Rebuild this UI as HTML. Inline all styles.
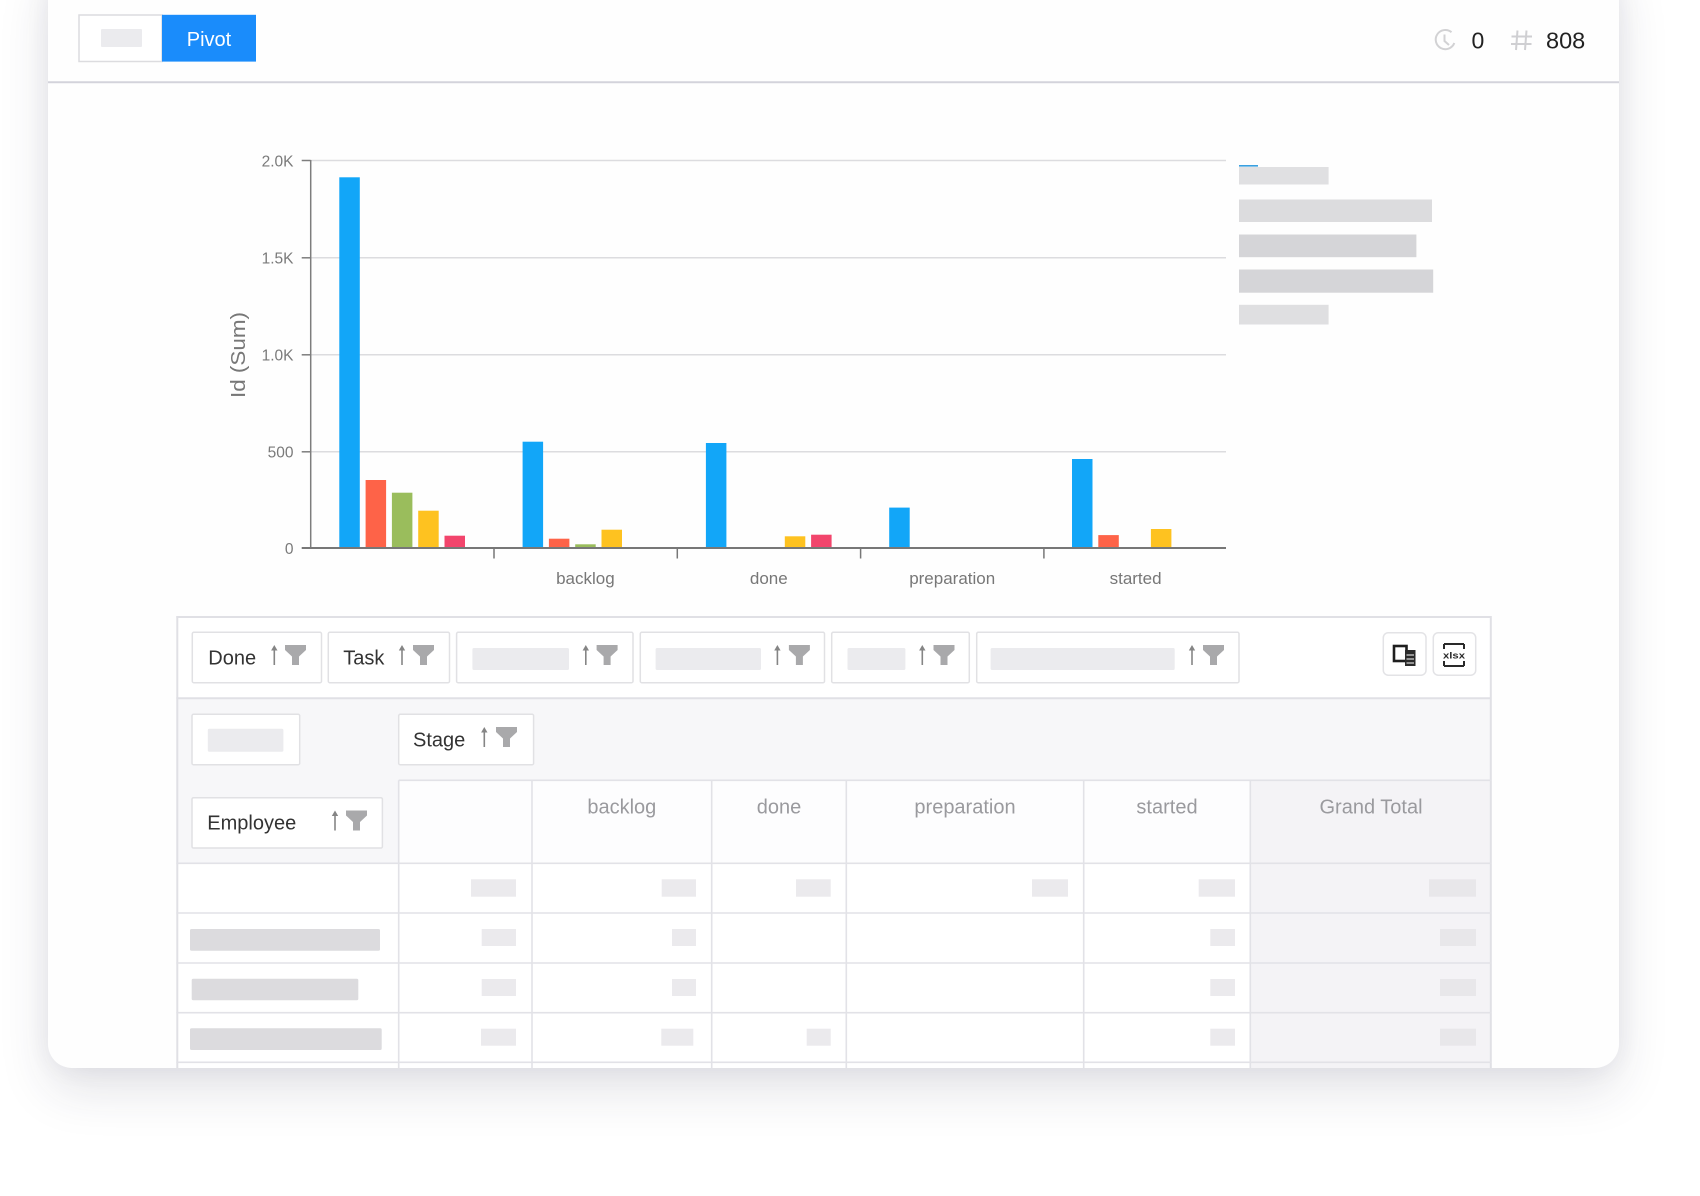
<!DOCTYPE html>
<html>
<head>
<meta charset="utf-8">
<style>
  html,body{margin:0;padding:0;background:#ffffff;}
  body{width:1700px;height:1196px;position:relative;overflow:hidden;font-family:"Liberation Sans",sans-serif;}
  #card{position:absolute;left:48px;top:-40px;width:1571px;height:1108px;border-radius:24px;background:#fefefe;
        box-shadow:0 22px 50px rgba(40,40,70,0.13),0 0 26px rgba(40,40,70,0.06);}
  svg{position:absolute;left:0;top:0;}
  text{font-family:"Liberation Sans",sans-serif;}
</style>
</head>
<body>
<div id="card"></div>
<svg width="1700" height="1196" viewBox="0 0 1700 1196" xmlns="http://www.w3.org/2000/svg">
  <defs>
    <clipPath id="cardclip"><rect x="0" y="0" width="1700" height="1068"/></clipPath>
    <g id="filt"><path d="M0 0 H21 V5 L14 11.5 V20 H7 V11.5 L0 5 Z" fill="#a9a9ab"/></g>
    <g id="arr"><line x1="0" y1="3" x2="0" y2="20" stroke="#858585" stroke-width="1.6"/><path d="M-3.2 5.5 L0 0 L3.2 5.5 Z" fill="#858585"/></g>
  </defs>

  <!-- Header -->
  <rect x="79" y="15" width="83" height="46.5" fill="#ffffff" stroke="#dcdcdf" stroke-width="1.5"/>
  <rect x="101" y="29" width="41" height="18" fill="#ebebee" rx="1"/>
  <rect x="162" y="14.8" width="94" height="46.8" fill="#1a8cfb"/>
  <text x="209" y="46" font-size="20" fill="#ffffff" text-anchor="middle">Pivot</text>
  <line x1="48" y1="82.3" x2="1619" y2="82.3" stroke="#d3d3db" stroke-width="2"/>

  <!-- clock icon -->
  <g fill="none" stroke="#d2d2d4" stroke-width="2">
    <path d="M1451.5 32.2 A9.6 9.6 0 1 0 1454.3 43"/>
    <polyline points="1444.5,34.5 1444.5,41 1449,45"/>
  </g>
  <text x="1471.5" y="48.3" font-size="23" fill="#222">0</text>
  <g stroke="#cfcfd2" stroke-width="2">
    <line x1="1517.5" y1="30.5" x2="1516" y2="50"/>
    <line x1="1526.5" y1="30.5" x2="1525" y2="50"/>
    <line x1="1511.5" y1="36.5" x2="1532" y2="36.5"/>
    <line x1="1511" y1="44" x2="1531.5" y2="44"/>
  </g>
  <text x="1546" y="48.3" font-size="23.5" fill="#222">808</text>

  <!-- Chart gridlines -->
  <g stroke="#dcdcdf" stroke-width="1.5">
    <line x1="311" y1="160.5" x2="1226" y2="160.5"/>
    <line x1="311" y1="257.8" x2="1226" y2="257.8"/>
    <line x1="311" y1="354.8" x2="1226" y2="354.8"/>
    <line x1="311" y1="451.8" x2="1226" y2="451.8"/>
  </g>
  <!-- y axis -->
  <g stroke="#7d7d7d" stroke-width="1.5">
    <line x1="310.7" y1="160" x2="310.7" y2="548"/>
    <line x1="301.7" y1="160.5" x2="310.7" y2="160.5"/>
    <line x1="301.7" y1="257.8" x2="310.7" y2="257.8"/>
    <line x1="301.7" y1="354.8" x2="310.7" y2="354.8"/>
    <line x1="301.7" y1="451.8" x2="310.7" y2="451.8"/>
  </g>
  <g font-size="15.5" fill="#7a7a7a" text-anchor="end">
    <text x="293.5" y="166.5">2.0K</text>
    <text x="293.5" y="263.5">1.5K</text>
    <text x="293.5" y="360.5">1.0K</text>
    <text x="293.5" y="457.5">500</text>
    <text x="293.5" y="554">0</text>
  </g>
  <text transform="translate(245,355) rotate(-90)" font-size="20" fill="#777" text-anchor="middle" textLength="86" lengthAdjust="spacingAndGlyphs">Id (Sum)</text>

  <!-- Bars -->
  <g>
    <rect x="339.3" y="177.3" width="20.5" height="370.4" fill="#12a6f8"/>
    <rect x="365.6" y="480" width="20.5" height="67.7" fill="#fe6348"/>
    <rect x="391.9" y="492.7" width="20.5" height="55" fill="#9abd5c"/>
    <rect x="418.2" y="510.7" width="20.5" height="37" fill="#fec220"/>
    <rect x="444.5" y="535.7" width="20.5" height="12" fill="#f2456c"/>
    <rect x="522.6" y="441.7" width="20.5" height="106" fill="#12a6f8"/>
    <rect x="548.9" y="538.7" width="20.5" height="9" fill="#fe6348"/>
    <rect x="575.2" y="544.3" width="20.5" height="3.4" fill="#9abd5c"/>
    <rect x="601.5" y="529.7" width="20.5" height="18" fill="#fec220"/>
    <rect x="705.9" y="443" width="20.5" height="104.7" fill="#12a6f8"/>
    <rect x="784.8" y="536.3" width="20.5" height="11.4" fill="#fec220"/>
    <rect x="811.1" y="534.7" width="20.5" height="13" fill="#f2456c"/>
    <rect x="889.2" y="507.6" width="20.5" height="40.1" fill="#12a6f8"/>
    <rect x="1072" y="459" width="20.5" height="88.7" fill="#12a6f8"/>
    <rect x="1098.3" y="535.1" width="20.5" height="12.6" fill="#fe6348"/>
    <rect x="1150.9" y="529" width="20.5" height="18.7" fill="#fec220"/>
  </g>

  <!-- x axis -->
  <g stroke="#777" stroke-width="2">
    <line x1="301.7" y1="548" x2="1226" y2="548"/>
  </g>
  <g stroke="#777" stroke-width="1.5">
    <line x1="494" y1="548" x2="494" y2="558.5"/>
    <line x1="677.3" y1="548" x2="677.3" y2="558.5"/>
    <line x1="860.6" y1="548" x2="860.6" y2="558.5"/>
    <line x1="1043.9" y1="548" x2="1043.9" y2="558.5"/>
  </g>
  <g font-size="17" fill="#777" text-anchor="middle">
    <text x="585.4" y="584">backlog</text>
    <text x="768.8" y="584">done</text>
    <text x="952.2" y="584">preparation</text>
    <text x="1135.6" y="584">started</text>
  </g>

  <!-- Legend placeholders -->
  <rect x="1239" y="167" width="89.6" height="17.5" fill="#e0e0e2"/>
  <line x1="1239" y1="165.8" x2="1258" y2="165.8" stroke="#3aa0e0" stroke-width="1.6"/>
  <rect x="1239" y="199.5" width="193" height="22.5" fill="#dcdcde"/>
  <rect x="1239" y="234.5" width="177.4" height="22.7" fill="#d5d5d8"/>
  <rect x="1239" y="269.5" width="194.2" height="23.2" fill="#d5d5d8"/>
  <rect x="1239" y="304.8" width="89.6" height="19.7" fill="#dfdfe1"/>

  <!-- ============ TABLE ============ -->
  <g clip-path="url(#cardclip)">
    <rect x="176.3" y="616" width="1315" height="460" fill="#ffffff"/>
    <rect x="176.3" y="698.3" width="1315" height="165" fill="#f7f7f9"/>
    <rect x="398.7" y="780.3" width="851.6" height="83" fill="#fdfdfe"/>
    <rect x="1250.3" y="780.3" width="241" height="300" fill="#f4f3f6"/>

    <g stroke="#e0e0e5" stroke-width="2">
      <line x1="176.3" y1="617" x2="1491.3" y2="617"/>
      <line x1="177.3" y1="616" x2="177.3" y2="1080"/>
      <line x1="1490.8" y1="616" x2="1490.8" y2="1080"/>
      <line x1="176.3" y1="698.3" x2="1491.3" y2="698.3"/>
    </g>
    <g stroke="#e2e2e7" stroke-width="1.6">
      <line x1="398.7" y1="780.3" x2="1491.3" y2="780.3"/>
      <line x1="398.7" y1="780.3" x2="398.7" y2="1080"/>
      <line x1="532" y1="780.3" x2="532" y2="1080"/>
      <line x1="711.7" y1="780.3" x2="711.7" y2="1080"/>
      <line x1="846.3" y1="780.3" x2="846.3" y2="1080"/>
      <line x1="1083.7" y1="780.3" x2="1083.7" y2="1080"/>
      <line x1="1250.3" y1="780.3" x2="1250.3" y2="1080"/>
      <line x1="176.3" y1="863.3" x2="1491.3" y2="863.3"/>
      <line x1="176.3" y1="913" x2="1491.3" y2="913"/>
      <line x1="176.3" y1="963" x2="1491.3" y2="963"/>
      <line x1="176.3" y1="1012.7" x2="1491.3" y2="1012.7"/>
      <line x1="176.3" y1="1062.3" x2="1491.3" y2="1062.3"/>
    </g>

    <!-- Toolbar chips -->
    <g fill="#ffffff" stroke="#e1e1e4" stroke-width="1.5">
      <rect x="192.3" y="632.3" width="129.2" height="50.4" rx="1.5"/>
      <rect x="328.3" y="632.3" width="121.2" height="50.4" rx="1.5"/>
      <rect x="456.6" y="632.3" width="176.4" height="50.4" rx="1.5"/>
      <rect x="640.3" y="632.3" width="184.2" height="50.4" rx="1.5"/>
      <rect x="831.7" y="632.3" width="137.6" height="50.4" rx="1.5"/>
      <rect x="976.7" y="632.3" width="262.3" height="50.4" rx="1.5"/>
    </g>
    <g font-size="20" fill="#333">
      <text x="208.3" y="664.5">Done</text>
      <text x="343.3" y="664.5">Task</text>
    </g>
    <g fill="#ebebee">
      <rect x="472.4" y="648" width="96.6" height="22" rx="1.5"/>
      <rect x="655.6" y="648" width="105.4" height="22" rx="1.5"/>
      <rect x="847.5" y="648" width="57.9" height="22" rx="1.5"/>
      <rect x="990.6" y="648" width="184.1" height="22" rx="1.5"/>
    </g>
    <use href="#arr" x="274.3" y="645"/><use href="#filt" x="285" y="645"/>
    <use href="#arr" x="402" y="645"/><use href="#filt" x="413" y="645"/>
    <use href="#arr" x="585.8" y="645"/><use href="#filt" x="596.6" y="645"/>
    <use href="#arr" x="777.4" y="645"/><use href="#filt" x="788.9" y="645"/>
    <use href="#arr" x="922.3" y="645"/><use href="#filt" x="933.5" y="645"/>
    <use href="#arr" x="1192" y="645"/><use href="#filt" x="1203" y="645"/>

    <!-- export buttons -->
    <g fill="#ffffff" stroke="#e3e3e6" stroke-width="1.5">
      <rect x="1383.3" y="632.7" width="42.7" height="42.5" rx="5"/>
      <rect x="1433.3" y="632.7" width="42.4" height="42.5" rx="5"/>
    </g>
    <rect x="1394" y="646" width="12.5" height="15" fill="none" stroke="#1e1e1e" stroke-width="2.6"/>
    <rect x="1405" y="650" width="10.5" height="16" fill="#2a2a2a"/>
    <g stroke="#ffffff" stroke-width="1">
      <line x1="1406.5" y1="655" x2="1414" y2="655"/>
      <line x1="1406.5" y1="659" x2="1414" y2="659"/>
      <line x1="1406.5" y1="663" x2="1414" y2="663"/>
    </g>
    <g stroke="#2a2a2a" stroke-width="2">
      <line x1="1444" y1="644" x2="1464" y2="644"/>
      <line x1="1444" y1="666" x2="1464" y2="666"/>
      <line x1="1444" y1="644" x2="1444" y2="649"/>
      <line x1="1464" y1="644" x2="1464" y2="649"/>
      <line x1="1444" y1="661" x2="1444" y2="666"/>
      <line x1="1464" y1="661" x2="1464" y2="666"/>
    </g>
    <text x="1454" y="658.5" font-size="9" fill="#2a2a2a" text-anchor="middle" font-weight="bold" textLength="22" lengthAdjust="spacingAndGlyphs">xlsx</text>

    <!-- Header area chips -->
    <g fill="#ffffff" stroke="#e1e1e4" stroke-width="1.5">
      <rect x="192" y="714.3" width="107.7" height="50.4" rx="1.5"/>
      <rect x="398.7" y="714.3" width="134.9" height="50.4" rx="1.5"/>
      <rect x="192" y="797.7" width="190.4" height="50.3" rx="1.5"/>
    </g>
    <rect x="207.8" y="728.7" width="75.6" height="23" fill="#ebebee" rx="1.5"/>
    <g font-size="20" fill="#333">
      <text x="413" y="746.3">Stage</text>
      <text x="207.3" y="829.7">Employee</text>
    </g>
    <use href="#arr" x="484.3" y="727"/><use href="#filt" x="496" y="727"/>
    <use href="#arr" x="335" y="810.5"/><use href="#filt" x="346" y="810.5"/>

    <!-- Column header text -->
    <g font-size="20" fill="#9a9a9e" text-anchor="middle">
      <text x="621.8" y="813.5">backlog</text>
      <text x="779" y="813.5">done</text>
      <text x="965" y="813.5">preparation</text>
      <text x="1167" y="813.5">started</text>
      <text x="1371" y="813.5">Grand Total</text>
    </g>

    <!-- Body placeholders -->
    <g fill="#ebeaed">
      <rect x="471" y="879.3" width="45" height="17.4"/>
      <rect x="661.7" y="879.3" width="34.3" height="17.4"/>
      <rect x="796" y="879.3" width="34.7" height="17.4"/>
      <rect x="1032" y="879.3" width="36" height="17.4"/>
      <rect x="1198.7" y="879.3" width="36.3" height="17.4"/>
      <rect x="481.7" y="929" width="34.3" height="17"/>
      <rect x="672" y="929" width="24" height="17"/>
      <rect x="1210.3" y="929" width="24.7" height="17"/>
      <rect x="481.7" y="979" width="34.3" height="17"/>
      <rect x="672" y="979" width="24" height="17"/>
      <rect x="1210.3" y="979" width="24.7" height="17"/>
      <rect x="481" y="1028.7" width="35" height="17"/>
      <rect x="661.3" y="1028.7" width="32" height="17"/>
      <rect x="806.7" y="1028.7" width="24" height="17"/>
      <rect x="1210.3" y="1028.7" width="24.7" height="17"/>
    </g>
    <g fill="#e8e7ea">
      <rect x="1429" y="879.3" width="47" height="17.4"/>
      <rect x="1440" y="929" width="36" height="17"/>
      <rect x="1440" y="979" width="36" height="17"/>
      <rect x="1440" y="1028.7" width="36" height="17"/>
    </g>
    <g fill="#dcdbde">
      <rect x="190" y="929" width="190" height="21.7" rx="1.5"/>
      <rect x="191.7" y="978.7" width="166.6" height="21.6" rx="1.5"/>
      <rect x="190" y="1028.3" width="191.7" height="21.7" rx="1.5"/>
    </g>
  </g>
</svg>
</body>
</html>
